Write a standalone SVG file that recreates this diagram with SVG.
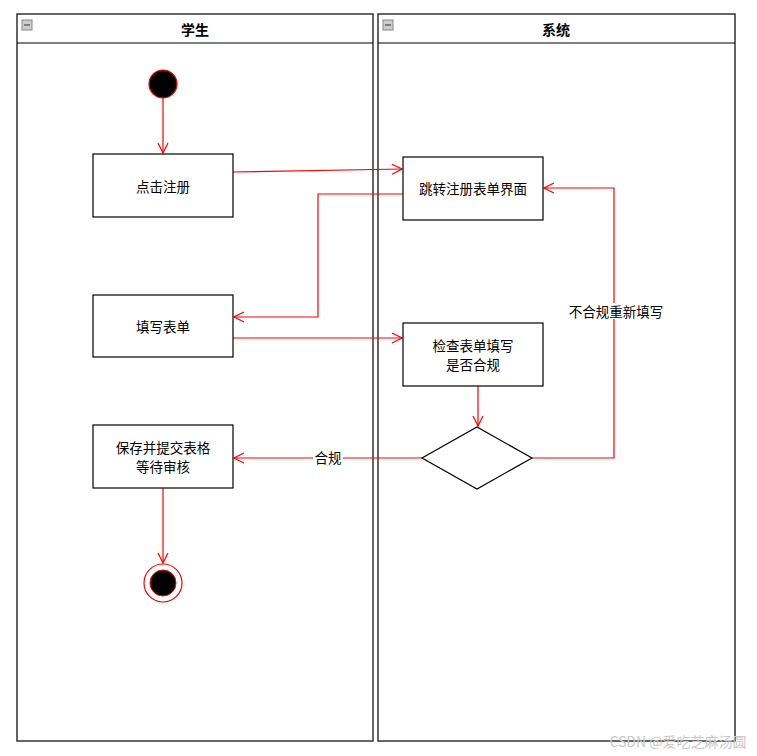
<svg xmlns="http://www.w3.org/2000/svg" width="757" height="756" viewBox="0 0 757 756">
<style>
text{font-family:"Noto Sans CJK SC","Liberation Sans",sans-serif;font-size:13.5px;fill:#000;text-anchor:middle;dominant-baseline:central}
.lane{fill:#fff;stroke:#333;stroke-width:1.5}
.box{fill:#fff;stroke:#000;stroke-width:1.2}
.c{fill:none;stroke:#ff0000;stroke-width:1.2}
.hdr{font-weight:bold;font-size:14px}
.lbl{fill:#fff;stroke:none}
</style>
<defs>
<marker id="a" viewBox="0 0 12 12" refX="11" refY="6" markerWidth="12" markerHeight="12" markerUnits="userSpaceOnUse" orient="auto">
<path d="M1,1 L11,6 L1,11" fill="none" stroke="#ff0000" stroke-width="1.2"/>
</marker>
</defs>
<rect width="757" height="756" fill="#fff"/>
<g id="lane-student">
<rect class="lane" x="17" y="14" width="356" height="727"/>
<line x1="17" y1="43" x2="373" y2="43" stroke="#000"/>
<rect x="22" y="20" width="10" height="10" fill="#ccc" stroke="#888"/><line x1="24" y1="25" x2="30" y2="25" stroke="#333"/>
<text class="hdr" x="195" y="29">学生</text>
</g>
<g id="lane-system">
<rect class="lane" x="378" y="14" width="357" height="727"/>
<line x1="378" y1="43" x2="735" y2="43" stroke="#000"/>
<rect x="383" y="20" width="10" height="10" fill="#ccc" stroke="#888"/><line x1="385" y1="25" x2="391" y2="25" stroke="#333"/>
<text class="hdr" x="556" y="29">系统</text>
</g>
<g id="connectors">
<path class="c" d="M163,98 L163,153" marker-end="url(#a)"/>
<path class="c" d="M233,172 L402,169" marker-end="url(#a)"/>
<path class="c" d="M403,194 L318,194 L318,317 L234,317" marker-end="url(#a)"/>
<path class="c" d="M233,338 L402,338" marker-end="url(#a)"/>
<path class="c" d="M478,386 L478,426" marker-end="url(#a)"/>
<path class="c" d="M422,458 L234,458" marker-end="url(#a)"/>
<path class="c" d="M532,458 L614,458 L614,188 L544,188" marker-end="url(#a)"/>
<path class="c" d="M163,488 L163,563" marker-end="url(#a)"/>
<rect class="lbl" x="313" y="449" width="30" height="16"/>
<text x="328" y="457">合规</text>
<rect class="lbl" x="566" y="303" width="100" height="16"/>
<text x="616" y="311">不合规重新填写</text>
</g>
<g id="start"><circle cx="163" cy="84" r="14" fill="#000" stroke="#ff0000" stroke-width="1.2"/></g>
<g id="n1"><rect class="box" x="93" y="154" width="140" height="63"/><text x="163" y="186">点击注册</text></g>
<g id="n2"><rect class="box" x="403" y="157" width="140" height="63"/><text x="473" y="188">跳转注册表单界面</text></g>
<g id="n3"><rect class="box" x="93" y="295" width="140" height="62"/><text x="163" y="326">填写表单</text></g>
<g id="n4"><rect class="box" x="403" y="323" width="140" height="63"/><text x="473" y="345">检查表单填写</text><text x="473" y="364">是否合规</text></g>
<g id="decision"><polygon points="422,458 477,427 532,458 477,489" fill="#fff" stroke="#000" stroke-width="1.2"/></g>
<g id="n5"><rect class="box" x="93" y="425" width="140" height="63"/><text x="163" y="447">保存并提交表格</text><text x="163" y="466">等待审核</text></g>
<g id="end"><circle cx="163" cy="583" r="19" fill="#fff" stroke="#ff0000" stroke-width="1.2"/><circle cx="163" cy="583" r="13" fill="#000" stroke="#ff0000"/></g>
<text x="678" y="741" style="fill:#c8c8c8;font-size:14px">CSDN @爱吃芝麻汤圆</text>
</svg>
